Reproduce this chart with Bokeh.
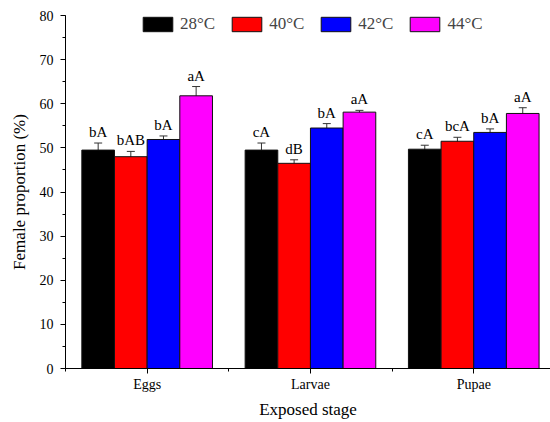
from bokeh.plotting import figure
from bokeh.models import (ColumnDataSource, Whisker, LabelSet, Legend, LegendItem,
                          FixedTicker, TeeHead, Range1d)
from bokeh.embed import file_html
from bokeh.resources import INLINE

# ---- data ----
stages = ["Eggs", "Larvae", "Pupae"]
temps = ["28\u00b0C", "40\u00b0C", "42\u00b0C", "44\u00b0C"]
colors = ["#000000", "#ff0000", "#0000ff", "#ff00ff"]
means = {
    "28\u00b0C": [49.5, 49.5, 49.7],
    "40\u00b0C": [48.0, 46.5, 51.5],
    "42\u00b0C": [51.9, 54.5, 53.5],
    "44\u00b0C": [61.8, 58.1, 57.8],
}
errs = {
    "28\u00b0C": [1.6, 1.6, 0.9],
    "40\u00b0C": [1.2, 0.8, 0.9],
    "42\u00b0C": [0.8, 1.0, 0.8],
    "44\u00b0C": [2.1, 0.4, 1.3],
}
letters = {
    "28\u00b0C": ["bA", "cA", "cA"],
    "40\u00b0C": ["bAB", "dB", "bcA"],
    "42\u00b0C": ["bA", "bA", "bA"],
    "44\u00b0C": ["aA", "aA", "aA"],
}
offsets = [-0.3, -0.1, 0.1, 0.3]
bar_w = 0.2

FONT = "Liberation Serif"

p = figure(width=550, height=422, output_backend="svg", toolbar_location=None,
           x_range=Range1d(0, 2.97), y_range=Range1d(0, 80),
           min_border_left=65, min_border_top=15, min_border_bottom=54, min_border_right=0)
p.outline_line_color = None
p.xgrid.visible = False
p.ygrid.visible = False
p.background_fill_color = "white"
p.border_fill_color = "white"

items = []
for t, c, off in zip(temps, colors, offsets):
    xs = [i + 0.5 + off for i in range(len(stages))]
    m = means[t]
    e = errs[t]
    src = ColumnDataSource(dict(
        x=xs, top=m, upper=[a + b for a, b in zip(m, e)],
        lower=[a - b for a, b in zip(m, e)], lab=letters[t]))
    r = p.vbar(x="x", top="top", width=bar_w, bottom=0, source=src,
               fill_color=c, line_color="#111111", line_width=1)
    items.append(LegendItem(label=t, renderers=[r]))
    w = Whisker(base="x", upper="upper", lower="lower", source=src,
                line_color="#333333", line_width=1,
                upper_head=TeeHead(size=8, line_color="#333333", line_width=1),
                lower_head=TeeHead(size=8, line_color="#333333", line_width=1))
    p.add_layout(w)
    lbl = LabelSet(x="x", y="upper", text="lab", source=src, text_align="center",
                   text_baseline="bottom", y_offset=3, text_font=FONT,
                   text_font_size="15px", text_color="black")
    p.add_layout(lbl)

legend = Legend(items=items, orientation="horizontal", location=(74, 334),
                glyph_width=37, glyph_height=18, label_standoff=4, spacing=13,
                padding=0, margin=0, border_line_color=None,
                background_fill_alpha=0, label_text_font=FONT,
                label_text_font_size="17px", label_height=18)
p.add_layout(legend, "center")

# axes
p.xaxis.ticker = FixedTicker(ticks=[i + 0.5 for i in range(len(stages))],
                             minor_ticks=[float(i) for i in range(len(stages) + 1)])
p.xaxis.major_label_overrides = {i + 0.5: s for i, s in enumerate(stages)}
p.yaxis.ticker = FixedTicker(ticks=list(range(0, 81, 10)), minor_ticks=list(range(0, 81, 5)))

for ax in (p.xaxis[0], p.yaxis[0]):
    ax.axis_line_color = "black"
    ax.axis_line_width = 1
    ax.major_tick_line_color = "black"
    ax.minor_tick_line_color = "black"
    ax.major_tick_out = 5
    ax.major_tick_in = 0
    ax.minor_tick_out = 3
    ax.minor_tick_in = 0
    ax.major_label_text_font = FONT
    ax.major_label_text_font_size = "14px"
    ax.major_label_text_color = "black"
    ax.axis_label_text_font = FONT
    ax.axis_label_text_font_size = "17px"
    ax.axis_label_text_font_style = "normal"
    ax.axis_label_text_color = "black"

p.xaxis.axis_label = "Exposed stage"
p.yaxis.axis_label = "Female proportion (%)"
p.xaxis.major_label_standoff = 3
p.yaxis.major_label_standoff = 7
p.xaxis.axis_label_standoff = 5
p.yaxis.axis_label_standoff = 8

open("out.html", "w").write(file_html(p, INLINE))
